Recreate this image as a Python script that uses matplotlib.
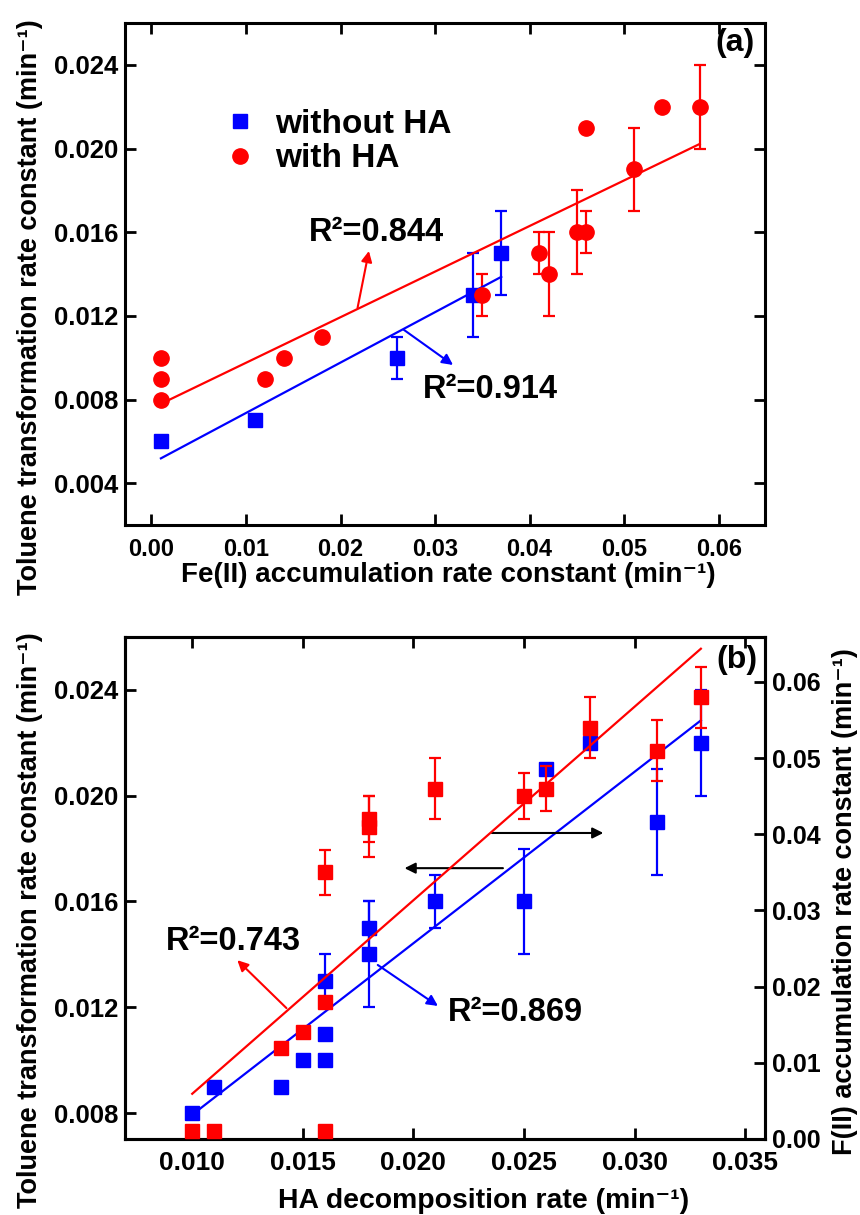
import matplotlib
matplotlib.use('Agg')
import matplotlib.pyplot as plt
import numpy as np
from matplotlib.ticker import FormatStrFormatter, MultipleLocator

plt.rcParams['font.family'] = ['Liberation Sans', 'DejaVu Sans']
plt.rcParams['font.weight'] = 'bold'

BLUE = '#0000FF'
RED = '#FF0000'

# ---------------- data ----------------
# Panel (a): toluene transformation rate constant vs Fe(II) accumulation rate constant
fe_noHA = [0.001, 0.011, 0.026, 0.034, 0.037]
tol_noHA = [0.006, 0.007, 0.010, 0.013, 0.015]
tol_noHA_err = [0, 0, 0.001, 0.002, 0.002]

fe_HA = [0.001, 0.001, 0.001, 0.012, 0.014, 0.018, 0.035, 0.041, 0.042,
         0.045, 0.046, 0.046, 0.051, 0.054, 0.058]
tol_HA = [0.008, 0.009, 0.010, 0.009, 0.010, 0.011, 0.013, 0.015, 0.014,
          0.016, 0.016, 0.021, 0.019, 0.022, 0.022]
tol_HA_err = [0, 0, 0, 0, 0, 0, 0.001, 0.001, 0.002,
              0.002, 0.001, 0, 0.002, 0, 0.002]

# Panel (b): vs HA decomposition rate (same samples as "with HA")
ha_rate = [0.010, 0.011, 0.016, 0.014, 0.015, 0.016, 0.016, 0.018, 0.018,
           0.025, 0.021, 0.026, 0.031, 0.028, 0.033]
fe_HA_err = [0, 0, 0, 0, 0, 0, 0.003, 0.004, 0.003,
             0.003, 0.004, 0.003, 0.004, 0.004, 0.004]

r2_a = ['0.914', '0.844']
r2_b = ['0.869', '0.743']

# ---------------- helpers ----------------
def errbars(ax, x, y, e, color, z=2):
    x = np.asarray(x); y = np.asarray(y); e = np.asarray(e)
    m = e > 0
    ax.errorbar(x[m], y[m], yerr=e[m], fmt='none', ecolor=color,
                elinewidth=1.6, capsize=4, capthick=1.6, zorder=z)

def fitline(ax, x, y, color):
    p = np.polyfit(x, y, 1)
    xs = np.array([min(x), max(x)])
    ax.plot(xs, np.polyval(p, xs), color=color, lw=1.6, zorder=3)

def style(ax, right=True):
    for s in ax.spines.values():
        s.set_linewidth(2.2)
    ax.tick_params(direction='in', length=8, width=2, top=True, right=right)
    ax.tick_params(axis='x', pad=9)
    ax.tick_params(axis='y', pad=5, labelsize=18.5)

def arrow(ax, tip, start, color):
    ax.annotate('', xy=tip, xytext=start,
                arrowprops=dict(arrowstyle='-|>', color=color, lw=1.5,
                                mutation_scale=16, shrinkA=0, shrinkB=0))

fig = plt.figure(figsize=(8.6, 12.15), dpi=100)
W, H = 860, 1215
axA = fig.add_axes([125 / W, (H - 525) / H, 640 / W, 502 / H])
axB = fig.add_axes([125 / W, (H - 1139) / H, 640 / W, 502 / H])

# ---------------- panel (a) ----------------
errbars(axA, fe_noHA, tol_noHA, tol_noHA_err, BLUE)
errbars(axA, fe_HA, tol_HA, tol_HA_err, RED)
fitline(axA, fe_noHA, tol_noHA, BLUE)
fitline(axA, fe_HA, tol_HA, RED)
axA.plot(fe_noHA, tol_noHA, 's', color=BLUE, ms=10, label='without HA', zorder=4)
axA.plot(fe_HA, tol_HA, 'o', color=RED, ms=11, label='with HA', zorder=4)

axA.set_xlim(-0.0028, 0.0649)
axA.set_ylim(0.0020, 0.0260)
axA.xaxis.set_major_locator(MultipleLocator(0.01))
axA.xaxis.set_major_formatter(FormatStrFormatter('%.2f'))
axA.set_yticks([0.004, 0.008, 0.012, 0.016, 0.020, 0.024])
axA.yaxis.set_major_formatter(FormatStrFormatter('%.3f'))
style(axA)
axA.tick_params(axis='x', labelsize=17)

axA.set_xlabel('Fe(II) accumulation rate constant (min⁻¹)', fontsize=20,
               fontweight='bold', va='top')
axA.xaxis.set_label_coords(0.505, -0.073)
axA.set_ylabel('Toluene transformation rate constant (min⁻¹)', fontsize=19.5,
               fontweight='bold')
axA.yaxis.set_label_coords(-0.128, 0.434)

axA.legend(loc='upper left', bbox_to_anchor=(0.159, 0.829), frameon=False,
           prop={'weight': 'bold', 'size': 24}, handlelength=0.8,
           handletextpad=0.65, labelspacing=0.1, borderpad=0,
           borderaxespad=0, numpoints=1)

axA.text(0.0166, 0.0160, 'R²=' + r2_a[1], fontsize=23.5, fontweight='bold',
         va='center', ha='left')
arrow(axA, (0.0230, 0.0151), (0.0218, 0.01238), RED)
axA.text(0.0287, 0.0085, 'R²=' + r2_a[0], fontsize=23.5, fontweight='bold',
         va='center', ha='left')
arrow(axA, (0.0319, 0.00965), (0.0267, 0.01133), BLUE)
axA.text(0.984, 0.96, '(a)', transform=axA.transAxes, fontsize=23,
         fontweight='bold', ha='right', va='center')

# ---------------- panel (b) ----------------
axB2 = axB.twinx()
errbars(axB, ha_rate, tol_HA, tol_HA_err, BLUE)
fitline(axB, ha_rate, tol_HA, BLUE)
axB.plot(ha_rate, tol_HA, 's', color=BLUE, ms=9.5, zorder=4)

errbars(axB2, ha_rate, fe_HA, fe_HA_err, RED)
fitline(axB2, ha_rate, fe_HA, RED)
axB2.plot(ha_rate, fe_HA, 's', color=RED, ms=9.5, zorder=4)

axB.set_xlim(0.00696, 0.0359)
axB.set_ylim(0.00702, 0.0260)
axB2.set_ylim(0.0, 0.0659)
axB.set_xticks([0.010, 0.015, 0.020, 0.025, 0.030, 0.035])
axB.xaxis.set_major_formatter(FormatStrFormatter('%.3f'))
axB.set_yticks([0.008, 0.012, 0.016, 0.020, 0.024])
axB.yaxis.set_major_formatter(FormatStrFormatter('%.3f'))
axB2.set_yticks([0.00, 0.01, 0.02, 0.03, 0.04, 0.05, 0.06])
axB2.yaxis.set_major_formatter(FormatStrFormatter('%.2f'))
style(axB, right=False)
style(axB2)
axB2.tick_params(top=False, left=False)
axB2.tick_params(axis='y', labelsize=18)
axB.tick_params(axis='x', labelsize=19)

axB.set_xlabel('HA decomposition rate (min⁻¹)', fontsize=20.4,
               fontweight='bold', va='bottom')
axB.xaxis.set_label_coords(0.56, -0.149)
axB.set_ylabel('Toluene transformation rate constant (min⁻¹)', fontsize=19.5,
               fontweight='bold')
axB.yaxis.set_label_coords(-0.128, 0.436)
axB2.set_ylabel('F(II) accumulation rate constant (min⁻¹)', fontsize=19.5,
                fontweight='bold')
axB2.yaxis.set_label_coords(1.105, 0.472)

# black direction arrows
arrow(axB, (0.0196, 0.01726), (0.02405, 0.01726), 'black')
arrow(axB, (0.02859, 0.01859), (0.02355, 0.01859), 'black')

axB.text(0.00882, 0.01447, 'R²=' + r2_b[1], fontsize=23.5, fontweight='bold',
         va='center', ha='left', zorder=6)
arrow(axB, (0.01204, 0.01378), (0.01426, 0.01197), RED)
axB.text(0.02156, 0.01182, 'R²=' + r2_b[0], fontsize=23.5, fontweight='bold',
         va='center', ha='left')
arrow(axB, (0.02111, 0.01205), (0.01839, 0.0136), BLUE)
axB2.text(0.989, 0.954, '(b)', transform=axB2.transAxes, fontsize=23,
          fontweight='bold', ha='right', va='center')

fig.savefig('out.png', dpi=100)
